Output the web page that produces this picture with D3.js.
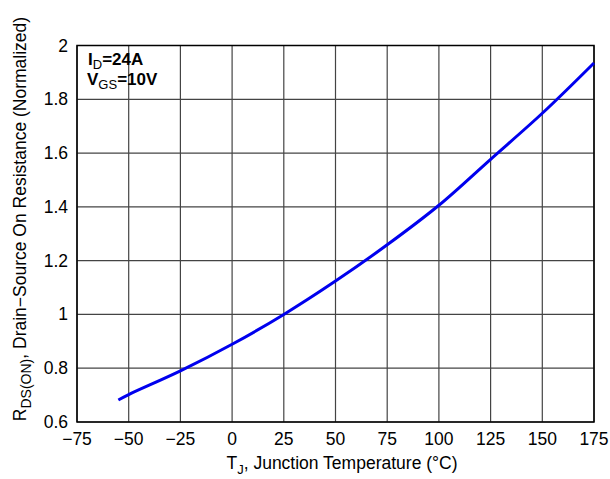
<!DOCTYPE html>
<html>
<head>
<meta charset="utf-8">
<script src="https://cdn.jsdelivr.net/npm/d3@7"></script>
<style>
body { margin: 0; background: #fff; }
text { font-family: "Liberation Sans", Arial, sans-serif; fill: #000; }
</style>
</head>
<body>
<div id="chart"></div>
<script>
// curve
var temps = [-55, -50, -25, 0, 25, 50, 75, 100, 125, 150, 175];
var rdson = [0.682, 0.702, 0.79, 0.889, 1.0, 1.124, 1.259, 1.406, 1.577, 1.748, 1.935];
var xTicks = [-75, -50, -25, 0, 25, 50, 75, 100, 125, 150, 175];
var yTicks = [0.6, 0.8, 1, 1.2, 1.4, 1.6, 1.8, 2];

var w = 610, h = 479;
var pl = 77, pr = 594, pt = 45.5, pb = 422;
var fs = 17.5;

var svg = d3.select("#chart").append("svg").attr("width", w).attr("height", h);

var x = d3.scaleLinear().domain([-75, 175]).range([pl, pr]);
var y = d3.scaleLinear().domain([0.6, 2]).range([pb, pt]);

// grid
svg.selectAll("line.vg").data(xTicks).enter().append("line")
  .attr("x1", d => x(d)).attr("x2", d => x(d))
  .attr("y1", pt).attr("y2", pb)
  .attr("stroke", "#444").attr("stroke-width", 1.2);
svg.selectAll("line.hg").data(yTicks).enter().append("line")
  .attr("y1", d => y(d)).attr("y2", d => y(d))
  .attr("x1", pl).attr("x2", pr)
  .attr("stroke", "#444").attr("stroke-width", 1.2);

svg.append("rect").attr("x", pl).attr("y", pt)
  .attr("width", pr - pl).attr("height", pb - pt)
  .attr("fill", "none").attr("stroke", "#000").attr("stroke-width", 1.5);

// tick labels
svg.selectAll("text.xt").data(xTicks).enter().append("text")
  .attr("x", d => x(d)).attr("y", pb + 23)
  .attr("text-anchor", "middle").attr("font-size", fs)
  .text(d => d < 0 ? "\u2212" + Math.abs(d) : d);
svg.selectAll("text.yt").data(yTicks).enter().append("text")
  .attr("x", pl - 9).attr("y", d => y(d) + 6)
  .attr("text-anchor", "end").attr("font-size", fs)
  .text(d => d3.format("~g")(d));

// curve
var line = d3.line().x((d, i) => x(temps[i])).y(d => y(d)).curve(d3.curveCatmullRom);
svg.append("path").datum(rdson).attr("d", line)
  .attr("fill", "none").attr("stroke", "#0000ee").attr("stroke-width", 3);

// annotation
var a1 = svg.append("text").attr("x", 88).attr("y", 65).attr("font-size", 17).attr("font-weight", "bold");
a1.append("tspan").text("I");
a1.append("tspan").attr("dy", 4).attr("font-size", 13).attr("font-weight", "normal").text("D");
a1.append("tspan").attr("dy", -4).text("=24A");
var a2 = svg.append("text").attr("x", 87).attr("y", 85).attr("font-size", 17).attr("font-weight", "bold");
a2.append("tspan").text("V");
a2.append("tspan").attr("dy", 4).attr("font-size", 13).attr("font-weight", "normal").text("GS");
a2.append("tspan").attr("dy", -4).text("=10V");

// axis titles
var xl = svg.append("text").attr("x", 342).attr("y", 469)
  .attr("text-anchor", "middle").attr("font-size", fs);
xl.append("tspan").text("T");
xl.append("tspan").attr("dy", 5).attr("font-size", 13).text("J");
xl.append("tspan").attr("dy", -5).text(", Junction Temperature (\u00b0C)");

var yl = svg.append("text")
  .attr("transform", "translate(26,219) rotate(-90)")
  .attr("text-anchor", "middle").attr("font-size", fs);
yl.append("tspan").text("R");
yl.append("tspan").attr("dy", 5).attr("font-size", 14).text("DS(ON)");
yl.append("tspan").attr("dy", -5).text(", Drain\u2212Source On Resistance (Normalized)");
</script>
</body>
</html>
